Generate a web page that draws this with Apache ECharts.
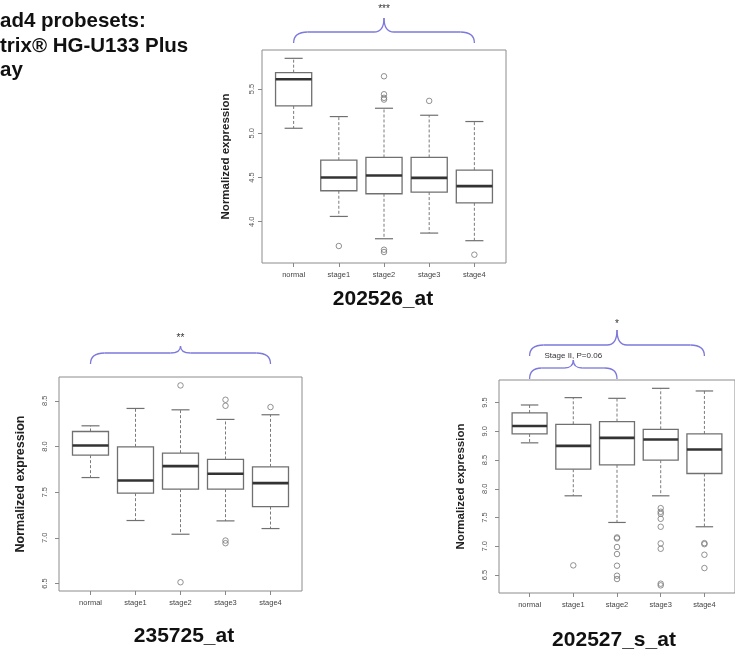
<!DOCTYPE html>
<html>
<head>
<meta charset="utf-8">
<script src="https://cdn.jsdelivr.net/npm/echarts@6/dist/echarts.min.js"></script>
<style>
  html, body { margin: 0; padding: 0; background: #fff; }
  #chart { width: 735px; height: 653px; }
</style>
</head>
<body>
<div id="chart"></div>
<script>
const categories = ['normal', 'stage1', 'stage2', 'stage3', 'stage4'];

// five-number summaries per group: [lower whisker, Q1, median, Q3, upper whisker]
const stats202526 = [
  [5.056, 5.308, 5.609, 5.684, 5.846],
  [4.060, 4.350, 4.500, 4.696, 5.188],
  [3.808, 4.316, 4.523, 4.726, 5.282],
  [3.872, 4.335, 4.496, 4.726, 5.203],
  [3.786, 4.214, 4.402, 4.583, 5.132]
];
const outliers202526 = [[], [3.726], [5.643, 5.440, 5.400, 5.380, 3.684, 3.658], [5.365], [3.628]];
const ticks202526 = [4.0, 4.5, 5.0, 5.5];

const stats235725 = [
  [7.660, 7.905, 8.011, 8.164, 8.226],
  [7.190, 7.489, 7.628, 7.996, 8.416],
  [7.040, 7.533, 7.785, 7.927, 8.401],
  [7.186, 7.533, 7.701, 7.858, 8.296],
  [7.102, 7.343, 7.599, 7.777, 8.347]
];
const outliers235725 = [[], [], [8.668, 6.515], [8.511, 8.445, 6.971, 6.942], [8.431]];
const ticks235725 = [6.5, 7.0, 7.5, 8.0, 8.5];

const stats202527 = [
  [8.800, 8.955, 9.094, 9.320, 9.459],
  [7.878, 8.341, 8.747, 9.123, 9.587],
  [7.414, 8.417, 8.886, 9.170, 9.575],
  [7.878, 8.498, 8.857, 9.036, 9.749],
  [7.339, 8.266, 8.683, 8.955, 9.703]
];
const outliers202527 = [
  [], [6.667],
  [7.153, 7.136, 6.986, 6.864, 6.661, 6.487, 6.429],
  [7.663, 7.600, 7.565, 7.478, 7.339, 7.049, 6.956, 6.348, 6.319],
  [7.054, 7.036, 6.852, 6.620]
];
const ticks202527 = [6.5, 7.0, 7.5, 8.0, 8.5, 9.0, 9.5];

// significance brackets: [first group, last group, label]
const brackets202526 = [[1, 5, '***']];
const brackets235725 = [[1, 5, '**']];
const brackets202527 = [[1, 5, '*'], [1, 3, 'Stage II, P=0.06']];

const headingLines = ['ad4 probesets:', 'trix\u00AE HG-U133 Plus', 'ay'];

const FONT = "'Liberation Sans', Arial, Helvetica, sans-serif";
const BRACE_COLOR = '#7c78dc';

// layout of the three panels (pixels) and bracket heights above each frame
const panels = [
  {
    name: '202526_at', stats: stats202526, outliers: outliers202526, ticks: ticks202526,
    brackets: brackets202526, yMin: 3.534, yMax: 5.94,
    grid: { left: 262, top: 50, width: 244, height: 213 },
    labelMargin: 6, nameGap: 30, nameSize: 11.5,
    braceLevels: [{ end: 7, h: 18, tip: 32, label: 41, size: 10, r: 14, r2: 10 }],
    titleX: 383, titleY: 299
  },
  {
    name: '235725_at', stats: stats235725, outliers: outliers235725, ticks: ticks235725,
    brackets: brackets235725, yMin: 6.419, yMax: 8.76,
    grid: { left: 59, top: 377, width: 243, height: 214 },
    labelMargin: 10, nameGap: 32, nameSize: 12.5,
    braceLevels: [{ end: 13, h: 24, tip: 31, label: 39, size: 10, r: 14, r2: 10 }],
    titleX: 184, titleY: 636
  },
  {
    name: '202527_s_at', stats: stats202527, outliers: outliers202527, ticks: ticks202527,
    brackets: brackets202527, yMin: 6.186, yMax: 9.894,
    grid: { left: 499, top: 380, width: 244, height: 213 },
    labelMargin: 10, nameGap: 32, nameSize: 11.5,
    braceLevels: [
      { end: 24, h: 35, tip: 50, label: 56, size: 10, r: 14, r2: 10 },
      { end: 1, h: 12, tip: 20, label: 24, size: 8, r: 12, r2: 9 }
    ],
    titleX: 614, titleY: 640
  }
];

function boxRenderer(params, api) {
  const x = api.value(0);
  const lo = api.coord([x, api.value(1)]);
  const q1 = api.coord([x, api.value(2)]);
  const md = api.coord([x, api.value(3)]);
  const q3 = api.coord([x, api.value(4)]);
  const hi = api.coord([x, api.value(5)]);
  const hw = api.size([0.4, 0])[0];
  const cw = hw / 2;
  const cx = q1[0];
  const dash = { stroke: '#7a7a7a', lineWidth: 1, lineDash: [3, 2] };
  const solid = { stroke: '#707070', lineWidth: 1.2 };
  return {
    type: 'group',
    children: [
      { type: 'line', shape: { x1: cx, y1: q3[1], x2: cx, y2: hi[1] }, style: dash },
      { type: 'line', shape: { x1: cx, y1: q1[1], x2: cx, y2: lo[1] }, style: dash },
      { type: 'line', shape: { x1: cx - cw, y1: hi[1], x2: cx + cw, y2: hi[1] }, style: solid },
      { type: 'line', shape: { x1: cx - cw, y1: lo[1], x2: cx + cw, y2: lo[1] }, style: solid },
      { type: 'rect', shape: { x: cx - hw, y: q3[1], width: 2 * hw, height: q1[1] - q3[1] },
        style: { fill: '#fff', stroke: '#707070', lineWidth: 1.3 } },
      { type: 'line', shape: { x1: cx - hw, y1: md[1], x2: cx + hw, y2: md[1] },
        style: { stroke: '#333', lineWidth: 2.6 } }
    ]
  };
}

function braceRenderer(panel) {
  return function (params, api) {
    const b = panel.brackets[params.dataIndex];
    const lv = panel.braceLevels[params.dataIndex];
    const top = params.coordSys.y;
    const x1 = api.coord([api.value(0), panel.yMax])[0];
    const x2 = api.coord([api.value(1), panel.yMax])[0];
    const xm = (x1 + x2) / 2;
    const yE = top - lv.end, yH = top - lv.h, yT = top - lv.tip;
    const st = { stroke: BRACE_COLOR, lineWidth: 1.3, fill: null };
    return {
      type: 'group',
      children: [
        { type: 'bezierCurve', shape: { x1: x1, y1: yE, cpx1: x1, cpy1: yH, x2: x1 + lv.r, y2: yH }, style: st },
        { type: 'line', shape: { x1: x1 + lv.r, y1: yH, x2: xm - lv.r2, y2: yH }, style: st },
        { type: 'bezierCurve', shape: { x1: xm - lv.r2, y1: yH, cpx1: xm, cpy1: yH, x2: xm, y2: yT }, style: st },
        { type: 'bezierCurve', shape: { x1: xm, y1: yT, cpx1: xm, cpy1: yH, x2: xm + lv.r2, y2: yH }, style: st },
        { type: 'line', shape: { x1: xm + lv.r2, y1: yH, x2: x2 - lv.r, y2: yH }, style: st },
        { type: 'bezierCurve', shape: { x1: x2 - lv.r, y1: yH, cpx1: x2, cpy1: yH, x2: x2, y2: yE }, style: st },
        { type: 'text', style: { text: b[2], x: xm, y: top - lv.label, align: 'center', verticalAlign: 'middle',
          fontSize: lv.size, fontFamily: FONT, fill: '#333' } }
      ]
    };
  };
}

const option = {
  backgroundColor: '#fff',
  animation: false,
  grid: panels.map(p => Object.assign({ show: true, borderColor: '#8c8c8c', borderWidth: 1, backgroundColor: 'transparent' }, p.grid)),
  xAxis: panels.map((p, i) => ({
    type: 'value', gridIndex: i, min: 0.3, max: 5.7,
    axisLine: { show: false },
    splitLine: { show: false },
    axisTick: { show: true, length: 4, customValues: [1, 2, 3, 4, 5], lineStyle: { color: '#888' } },
    axisLabel: {
      customValues: [1, 2, 3, 4, 5], formatter: v => categories[Math.round(v) - 1],
      fontSize: 7.5, fontFamily: FONT, color: '#444', margin: 8
    }
  })),
  yAxis: panels.map((p, i) => ({
    type: 'value', gridIndex: i, min: p.yMin, max: p.yMax,
    axisLine: { show: false },
    splitLine: { show: false },
    axisTick: { show: true, length: 4, customValues: p.ticks, lineStyle: { color: '#888' } },
    axisLabel: {
      customValues: p.ticks, formatter: v => v.toFixed(1), rotate: 90,
      fontSize: 7.5, fontFamily: FONT, color: '#555', margin: p.labelMargin
    },
    name: 'Normalized expression', nameLocation: 'middle', nameRotate: 90, nameGap: p.nameGap,
    nameTextStyle: { fontSize: p.nameSize, fontWeight: 'bold', fontFamily: FONT, color: '#222' }
  })),
  series: [],
  graphic: []
};

panels.forEach((p, i) => {
  option.series.push({
    type: 'custom', xAxisIndex: i, yAxisIndex: i,
    renderItem: boxRenderer,
    encode: { x: 0, y: [1, 2, 3, 4, 5] },
    data: p.stats.map((s, k) => [k + 1].concat(s)),
    z: 2
  });
  const pts = [];
  p.outliers.forEach((vals, k) => vals.forEach(v => pts.push([k + 1, v])));
  option.series.push({
    type: 'scatter', xAxisIndex: i, yAxisIndex: i,
    symbol: 'circle', symbolSize: 5.5,
    itemStyle: { color: 'rgba(255,255,255,0)', borderColor: '#777', borderWidth: 1 },
    data: pts, z: 3
  });
  option.series.push({
    type: 'custom', xAxisIndex: i, yAxisIndex: i, clip: false,
    renderItem: braceRenderer(p),
    encode: { x: [0, 1] },
    data: p.brackets.map(b => [b[0], b[1]]),
    z: 4
  });
  option.graphic.push({
    type: 'text', x: p.titleX, y: p.titleY,
    style: { text: p.name, align: 'center', verticalAlign: 'middle', fontSize: 21, fontWeight: 'bold', fontFamily: FONT, fill: '#111' }
  });
});

const headingY = [21.5, 46.5, 70.5];
headingLines.forEach((t, k) => {
  option.graphic.push({
    type: 'text', x: 0, y: headingY[k],
    style: { text: t, align: 'left', verticalAlign: 'middle', fontSize: 20.5, fontWeight: 'bold', fontFamily: FONT, fill: '#111' }
  });
});

const chart = echarts.init(document.getElementById('chart'), null, { renderer: 'canvas' });
chart.setOption(option);
</script>
</body>
</html>
